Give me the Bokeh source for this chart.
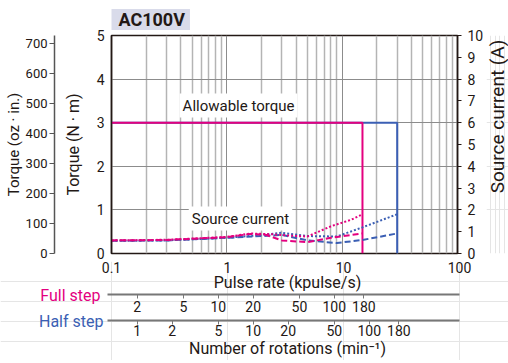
import math
from bokeh.plotting import figure
from bokeh.layouts import column, row
from bokeh.models import (Range1d, LinearAxis, LogAxis, LogScale, FixedTicker, Label,
                          NumeralTickFormatter)
from bokeh.embed import file_html
from bokeh.resources import INLINE

FONT = "Roboto"
MAGENTA = "#e4007f"
BLUE = "#3b5fb4"
GRID_MAJOR = "#8c8c8c"
GRID_MINOR = "#b4b4b4"
INK = "#231815"
SCALE_GRAY = "#777777"

# ---------------- data ----------------
title_text = "AC100V"
pulse_ticks = [0.1, 1, 10, 100]
pulse_minor = [0.2, 0.3, 0.4, 0.5, 0.6, 0.7, 0.8, 0.9,
               2, 3, 4, 5, 6, 7, 8, 9,
               20, 30, 40, 50, 60, 70, 80, 90]
torque_ticks = [0, 1, 2, 3, 4, 5]
oz_ticks = [0, 100, 200, 300, 400, 500, 600, 700]
amp_ticks = [0, 1, 2, 3, 4, 5, 6, 7, 8, 9, 10]
full_step_rpm_ticks = [2, 5, 10, 20, 50, 100, 180]
half_step_rpm_ticks = [1, 2, 5, 10, 20, 50, 100, 180]
rpm_per_kpulse_full = 12
rpm_per_kpulse_half = 6
oz_in_top = 727

allowable_torque = 3.0
full_step_max_pulse = 15
half_step_max_pulse = 30

# source current (A)
full_dash_rate = [0.1, 0.3, 1, 1.6, 2.2, 3, 5, 8, 12, 15]
full_dash_amp = [0.6, 0.62, 0.75, 0.9, 0.85, 0.6, 0.52, 0.72, 0.85, 0.92]
full_dot_rate = [0.1, 0.3, 1, 1.6, 2.5, 4, 5, 8, 12, 15]
full_dot_amp = [0.6, 0.63, 0.76, 0.92, 0.88, 0.8, 0.78, 1.25, 1.55, 1.8]
half_dash_rate = [0.1, 0.3, 1, 2, 3, 5, 9, 15, 30]
half_dash_amp = [0.58, 0.6, 0.72, 0.8, 0.85, 0.6, 0.48, 0.62, 0.92]
half_dot_rate = [0.1, 0.3, 1, 2, 3, 5, 9, 15, 30]
half_dot_amp = [0.58, 0.6, 0.72, 0.85, 0.95, 0.8, 0.78, 1.2, 1.8]

# ---------------- layout constants (pixels) ----------------
TOTAL_W = 508
FRAME_W, FRAME_H = 348, 218
BORDER_L, BORDER_R, BORDER_T, BORDER_B = 111, 27, 35, 8
MAIN_W = BORDER_L + FRAME_W + BORDER_R          # 486
MAIN_H = BORDER_T + FRAME_H + BORDER_B          # 261
SIDE_W = TOTAL_W - MAIN_W                       # 22
SCALE_H = 99
PX_PER_DECADE = FRAME_W / 3.0
X_MIN, X_MAX = 0.1, 100


def style_axis(ax, size="14px", label_size="16px"):
    ax.major_label_text_font = FONT
    ax.major_label_text_font_size = size
    ax.major_label_text_color = INK
    ax.axis_label_text_font = FONT
    ax.axis_label_text_font_size = label_size
    ax.axis_label_text_font_style = "normal"
    ax.axis_label_text_color = INK
    ax.minor_tick_out = 0
    ax.minor_tick_in = 0
    ax.major_tick_in = 0


# ================= main chart =================
p = figure(width=MAIN_W, height=MAIN_H, x_axis_type="log", x_range=(X_MIN, X_MAX), y_range=(0, 5),
           output_backend="svg", toolbar_location=None,
           min_border_left=BORDER_L, min_border_right=BORDER_R,
           min_border_top=BORDER_T, min_border_bottom=BORDER_B)
p.background_fill_color = "white"
p.border_fill_color = "white"
p.outline_line_color = INK
p.outline_line_width = 1.5

p.title.text = title_text
p.title.align = "left"
p.title.text_font = FONT
p.title.text_font_size = "18px"
p.title.text_font_style = "bold"
p.title.text_color = INK
p.title.background_fill_color = "#d9dbea"
p.title.standoff = 11
try:
    p.title.padding = dict(left=7, right=5, top=0, bottom=0)
except Exception:
    pass

p.extra_y_ranges = {"oz": Range1d(0, oz_in_top), "amp": Range1d(0, 10)}

xa = p.xaxis[0]
xa.ticker = FixedTicker(ticks=pulse_ticks, minor_ticks=pulse_minor)
xa.visible = False
p.xgrid.ticker = FixedTicker(ticks=pulse_ticks, minor_ticks=pulse_minor)

# main y axis (N·m)
ya = p.yaxis[0]
ya.ticker = FixedTicker(ticks=torque_ticks)
style_axis(ya)
ya.major_tick_out = 0
ya.axis_line_color = INK
ya.axis_line_width = 1.5
ya.major_label_standoff = 7
ya.axis_label = "Torque (N · m)"
ya.axis_label_standoff = 11

p.xgrid.grid_line_color = GRID_MAJOR
p.xgrid.minor_grid_line_color = GRID_MINOR
p.xgrid.minor_grid_line_width = 1.5
p.ygrid.grid_line_color = GRID_MAJOR

# invisible spacer axis between the two left axes
spacer = LinearAxis(ticker=FixedTicker(ticks=[0]), axis_line_color=None,
                    major_tick_out=6, major_tick_in=0, minor_tick_out=0,
                    major_tick_line_color=None, major_label_standoff=0,
                    major_label_text_font_size="1px", major_label_text_color=None,
                    major_label_overrides={0: " "})
p.add_layout(spacer, "left")

# oz·in axis
oz = LinearAxis(y_range_name="oz", ticker=FixedTicker(ticks=oz_ticks))
style_axis(oz, size="13px", label_size="15px")
oz.axis_line_color = "#555555"
oz.axis_line_width = 1.5
oz.major_tick_line_color = "#555555"
oz.major_tick_out = 5
oz.major_label_standoff = 2
oz.axis_label = "Torque (oz · in.)"
oz.axis_label_standoff = 0
p.add_layout(oz, "left")

# source current axis
amp = LinearAxis(y_range_name="amp", ticker=FixedTicker(ticks=amp_ticks))
style_axis(amp)
amp.axis_line_color = INK
amp.axis_line_width = 1.5
amp.major_tick_line_color = INK
amp.major_tick_out = 4
amp.major_label_standoff = 6
p.add_layout(amp, "right")

# allowable torque
p.line([X_MIN, half_step_max_pulse, half_step_max_pulse], [allowable_torque, allowable_torque, 0],
       line_color=BLUE, line_width=2)
p.line([X_MIN, full_step_max_pulse, full_step_max_pulse], [allowable_torque, allowable_torque, 0],
       line_color=MAGENTA, line_width=2)

# source current curves
p.line(half_dash_rate, half_dash_amp, y_range_name="amp", line_color=BLUE, line_width=2, line_dash="6 3")
p.line(half_dot_rate, half_dot_amp, y_range_name="amp", line_color=BLUE, line_width=2, line_dash="2 2")
p.line(full_dash_rate, full_dash_amp, y_range_name="amp", line_color=MAGENTA, line_width=2, line_dash="6 3")
p.line(full_dot_rate, full_dot_amp, y_range_name="amp", line_color=MAGENTA, line_width=2, line_dash="2 2")

p.add_layout(Label(x=127, y=148, x_units="screen", y_units="screen", text="Allowable torque",
                   text_font=FONT, text_font_size="15px", text_color=INK,
                   text_align="center", text_baseline="middle",
                   background_fill_color="white", padding=3))
p.add_layout(Label(x=129, y=35, x_units="screen", y_units="screen", text="Source current",
                   text_font=FONT, text_font_size="15px", text_color=INK,
                   text_align="center", text_baseline="middle",
                   background_fill_color="white", padding=3))

# ================= right-side title strip =================
side = figure(width=SIDE_W, height=MAIN_H, x_range=(0, 1), y_range=(0, 1),
              x_axis_location=None, y_axis_location=None, output_backend="svg",
              toolbar_location=None, min_border=0)
side.outline_line_color = None
side.add_layout(Label(x=11, y=MAIN_H - 124, x_units="screen", y_units="screen",
                      text="Source current (A)", angle=math.pi / 2,
                      text_font=FONT, text_font_size="19px", text_color=INK,
                      text_align="center", text_baseline="middle"))

# ================= bottom scales =================
left_decades = BORDER_L / PX_PER_DECADE
right_decades = (TOTAL_W - BORDER_L - FRAME_W) / PX_PER_DECADE
b_x0 = X_MIN * 10 ** (-left_decades)
b_x1 = X_MAX * 10 ** (right_decades)
scale_start = X_MIN * 10 ** (-4 / PX_PER_DECADE)

b = figure(width=TOTAL_W, height=SCALE_H, x_axis_type="log", x_range=Range1d(b_x0, b_x1),
           y_range=Range1d(SCALE_H, 0), x_axis_location=None, y_axis_location=None,
           output_backend="svg", toolbar_location=None, min_border=0)
b.outline_line_color = None
b.background_fill_color = "white"
b.border_fill_color = "white"
b.extra_x_ranges = {"full": Range1d(b_x0 * rpm_per_kpulse_full, b_x1 * rpm_per_kpulse_full),
                    "half": Range1d(b_x0 * rpm_per_kpulse_half, b_x1 * rpm_per_kpulse_half)}
b.extra_x_scales = {"full": LogScale(), "half": LogScale()}

pulse_ax = LogAxis(ticker=FixedTicker(ticks=pulse_ticks), formatter=NumeralTickFormatter(format="0.[0]"),
                   fixed_location=0, bounds=(X_MIN, X_MAX))
style_axis(pulse_ax)
pulse_ax.axis_line_color = None
pulse_ax.major_tick_out = 0
pulse_ax.major_label_standoff = 0
b.add_layout(pulse_ax, "below")

full_ax = LogAxis(x_range_name="full", ticker=FixedTicker(ticks=full_step_rpm_ticks),
                  formatter=NumeralTickFormatter(format="0"), fixed_location=33,
                  bounds=(scale_start * rpm_per_kpulse_full, X_MAX * rpm_per_kpulse_full))
style_axis(full_ax)
full_ax.axis_line_color = SCALE_GRAY
full_ax.axis_line_width = 2
full_ax.major_tick_line_color = SCALE_GRAY
full_ax.major_tick_out = 4
full_ax.major_label_standoff = 2
b.add_layout(full_ax, "below")

half_ax = LogAxis(x_range_name="half", ticker=FixedTicker(ticks=half_step_rpm_ticks),
                  formatter=NumeralTickFormatter(format="0"), fixed_location=59,
                  bounds=(scale_start * rpm_per_kpulse_half, X_MAX * rpm_per_kpulse_half))
style_axis(half_ax)
half_ax.axis_line_color = SCALE_GRAY
half_ax.axis_line_width = 2
half_ax.major_tick_line_color = SCALE_GRAY
half_ax.major_tick_out = 4
half_ax.major_label_standoff = 0
b.add_layout(half_ax, "below")

b.add_layout(Label(x=287, y=21, x_units="screen", y_units="data", text="Pulse rate (kpulse/s)",
                   text_font=FONT, text_font_size="16px", text_color=INK,
                   text_align="center", text_baseline="middle"))
b.add_layout(Label(x=100, y=34, x_units="screen", y_units="data", text="Full step",
                   text_font=FONT, text_font_size="16px", text_color=MAGENTA,
                   text_align="right", text_baseline="middle"))
b.add_layout(Label(x=103, y=60, x_units="screen", y_units="data", text="Half step",
                   text_font=FONT, text_font_size="16px", text_color=BLUE,
                   text_align="right", text_baseline="middle"))
b.add_layout(Label(x=287, y=87, x_units="screen", y_units="data",
                   text="Number of rotations (min\u207b\u00b9)",
                   text_font=FONT, text_font_size="16px", text_color=INK,
                   text_align="center", text_baseline="middle"))

layout = column(row(p, side), b)
open("out.html", "w").write(file_html(layout, INLINE))
